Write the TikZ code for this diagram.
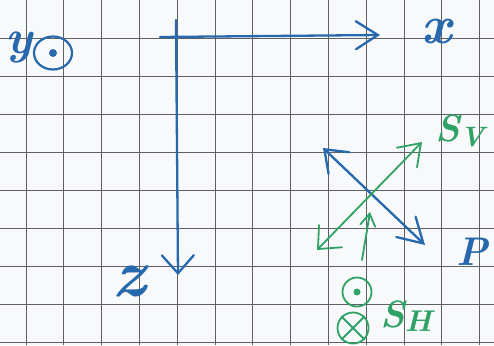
\documentclass[tikz,border=0pt]{standalone}
\usepackage{fontspec}
\usetikzlibrary{arrows.meta,shapes.geometric}
\definecolor{paper}{RGB}{248,249,251}
\definecolor{gridc}{RGB}{95,95,100}
\definecolor{inkblue}{RGB}{40,104,172}
\definecolor{inkgreen}{RGB}{48,162,102}
\tikzset{
  gridline/.style={draw=gridc,line width=0.9pt},
  bluepen/.style={draw=inkblue,line width=2.3pt,line cap=round,line join=round},
  greenpen/.style={draw=inkgreen,line width=1.8pt,line cap=round,line join=round},
  lab/.style={inner sep=0pt,font=\itshape},
}
\begin{document}
\begin{tikzpicture}[x=1pt,y=-1pt]
\fill[paper] (0,0) rectangle (494,345);
\useasboundingbox (0,0) rectangle (494,345);
% squared paper
\foreach \i in {0,...,12} \draw[gridline] ({26+37.8*\i},0) -- ({26+37.8*\i},345);
\foreach \j in {1,...,9} \draw[gridline] (0,{38*\j}) -- (494,{38*\j});
% axes
\coordinate (xstart) at (160,37);
\coordinate (xend) at (380,35);
\coordinate (zstart) at (176,20);
\coordinate (zend) at (178,275);
\draw[bluepen,-{Straight Barb[length=22pt,width=28pt,line cap=round]}] (xstart) -- (xend);
\draw[bluepen,-{Straight Barb[length=18pt,width=32pt,line cap=round]}] (zstart) -- (zend);
\node[lab,anchor=base,text=inkblue,font=\bfseries\itshape\fontsize{54}{56}\selectfont] (xlab) at (437,43) {x};
\node[lab,anchor=base,text=inkblue,font=\bfseries\itshape\fontsize{68}{70}\selectfont] (zlab) at (129,296) {z};
\node[lab,anchor=base,text=inkblue,font=\bfseries\itshape\fontsize{48}{50}\selectfont] (ylab) at (19,53) {y};
% y out of page
\node[draw=inkblue,line width=2.2pt,ellipse,minimum width=38pt,minimum height=33pt,inner sep=0pt] (ydot) at (53,53) {};
\fill[inkblue] (ydot.center) circle (4pt);
% blue double arrow P
\coordinate (pa) at (323,148);
\coordinate (pb) at (425,245);
\draw[bluepen,{Straight Barb[length=20pt,width=30pt,line cap=round]}-{Straight Barb[length=24pt,width=28pt,line cap=round]}] (pa) -- (pb);
\node[lab,text=inkblue,font=\bfseries\itshape\fontsize{40}{44}\selectfont] (plab) at (472,252) {P};
% green double arrow Sv
\coordinate (sa) at (317,250);
\coordinate (sb) at (422,142);
\draw[greenpen,{Straight Barb[length=18pt,width=32pt,line cap=round]}-{Straight Barb[length=20pt,width=28pt,line cap=round]}] (sa) -- (sb);
\node[lab,text=inkgreen,font=\bfseries\itshape\fontsize{38}{42}\selectfont] (svlab) at (460,131) {S\raisebox{-0.15em}{\fontsize{28}{30}\selectfont V}};
% small green arrow
\coordinate (ua) at (362,260);
\coordinate (ub) at (370,212);
\draw[greenpen,-{Straight Barb[length=12pt,width=15pt,line cap=round]}] (ua) -- (ub);
% SH symbols
\node[draw=inkgreen,line width=1.8pt,circle,minimum size=29pt,inner sep=0pt] (shdot) at (357,292) {};
\fill[inkgreen] (shdot.center) circle (3.5pt);
\node[draw=inkgreen,line width=1.8pt,circle,minimum size=31pt,inner sep=0pt] (shcross) at (353,328) {};
\draw[greenpen] (shcross.north west) -- (shcross.south east);
\draw[greenpen] (shcross.north east) -- (shcross.south west);
\node[lab,text=inkgreen,font=\bfseries\itshape\fontsize{38}{42}\selectfont] (shlab) at (406,316) {S\raisebox{-0.1em}{\fontsize{30}{32}\selectfont H}};
\end{tikzpicture}
\end{document}
